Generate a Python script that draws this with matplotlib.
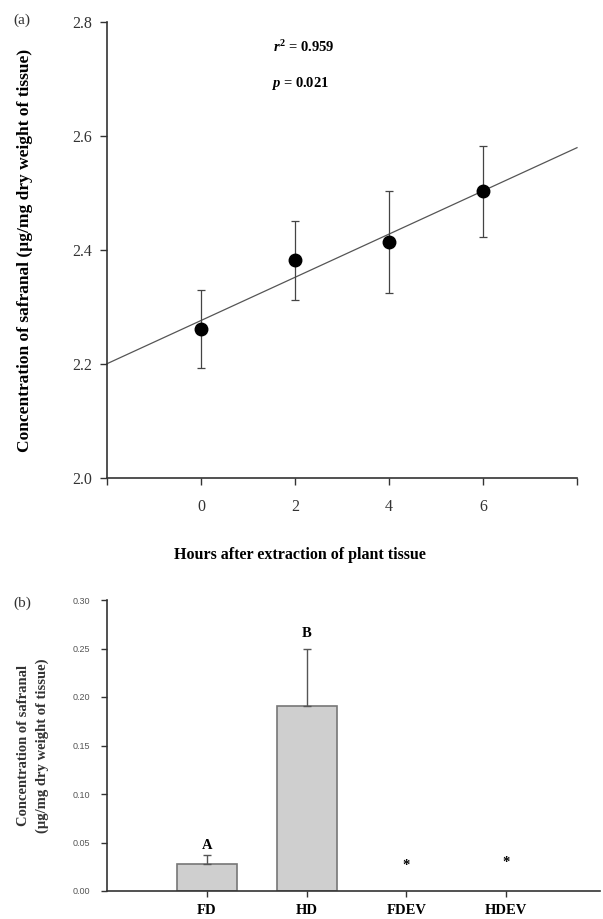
import numpy as np
import matplotlib
matplotlib.use("Agg")
import matplotlib.pyplot as plt

plt.rcParams['font.family'] = ['Liberation Serif', 'DejaVu Serif']
plt.rcParams['mathtext.fontset'] = 'custom'
plt.rcParams['mathtext.it'] = 'Liberation Serif:italic:bold'
plt.rcParams['mathtext.bf'] = 'Liberation Serif:bold'
plt.rcParams['mathtext.rm'] = 'Liberation Serif:bold'

# Panel (a) data
hours = [0, 2, 4, 6]
conc_a = [2.261, 2.382, 2.414, 2.503]
err_a = [0.068, 0.069, 0.089, 0.080]
a_yticks = [2.0, 2.2, 2.4, 2.6, 2.8]
a_xticks = [0, 2, 4, 6]

# Panel (b) data
cats = ["FD", "HD", "FDEV", "HDEV"]
conc_b = [0.028, 0.191, 0.0, 0.0]
err_b = [0.009, 0.059, 0.0, 0.0]
letters = ["A", "B", "*", "*"]
letter_y = [0.047, 0.265, 0.026, 0.029]
b_yticks = [0.00, 0.05, 0.10, 0.15, 0.20, 0.25, 0.30]

W, H = 603, 919
fig = plt.figure(figsize=(W/100, H/100), dpi=100)
axc = '#333333'

# ---------- panel (a)
ax = fig.add_axes([107/W, 1-478/H, (577-107)/W, (478-22)/H])
ax.set_xlim(-2, 8)
ax.set_ylim(2.0, 2.8)
slope, icpt = np.polyfit(hours, conc_a, 1)
xl = np.array([-2, 8])
ax.plot(xl, icpt + slope*xl, color='#555555', lw=0.9, clip_on=False)
ax.errorbar(hours, conc_a, yerr=err_a, fmt='o', color='black', ms=9,
            ecolor='#444444', elinewidth=0.9, capsize=3, capthick=0.9)
for s in ['top', 'right']:
    ax.spines[s].set_visible(False)
for s in ['left', 'bottom']:
    ax.spines[s].set_color(axc)
    ax.spines[s].set_linewidth(1.2)
ax.set_xticks([-2] + a_xticks + [8])
ax.set_xticklabels([''] + [str(v) for v in a_xticks] + [''])
ax.set_yticks(a_yticks)
ax.set_yticklabels([f"{v:.1f}" for v in a_yticks])
ax.tick_params(direction='out', length=5, width=1, color=axc, labelsize=11.5,
               labelcolor='#333333', pad=6)
ax.tick_params(axis='x', pad=10)
ax.set_xlabel("Hours after extraction of plant tissue", fontsize=11.5,
              fontweight='bold')
ax.xaxis.set_label_coords((300-107)/(577-107), -(547-478)/(478-22))
ax.set_ylabel("Concentration of safranal (\u00b5g/mg dry weight of tissue)",
              fontsize=12.5, fontweight='bold')
ax.yaxis.set_label_coords(-(107-33)/(577-107), 0.5)
ax.text(304, H-47, r"$r^{\mathbf{2}}$" + " = 0.959", transform=None,
        fontsize=10.5, fontweight='bold', ha='center', va='center')
ax.text(300, H-84, r"$p$" + " = 0.021", transform=None,
        fontsize=10.5, fontweight='bold', ha='center', va='center')
fig.text(22/W, 1-20/H, "(a)", fontsize=11, ha='center', va='center', color='#333333')

# ---------- panel (b)
bx = fig.add_axes([107/W, 1-891/H, (600-107)/W, (891-600)/H])
xpos = np.arange(len(cats))
bx.set_xlim(-1, 3.94)
bx.set_ylim(0, 0.30)
bx.bar(xpos[:2], conc_b[:2], width=0.6, color='#cfcfcf', edgecolor='#777777', lw=1.2)
bx.errorbar(xpos[:2], conc_b[:2], yerr=[[0, 0], err_b[:2]], fmt='none',
            ecolor='#555555', elinewidth=1.0, capsize=3, capthick=1.0)
for xp, lab, ly in zip(xpos, letters, letter_y):
    bx.text(xp, ly, lab, ha='center', va='center', fontsize=10.5, fontweight='bold')
for s in ['top', 'right']:
    bx.spines[s].set_visible(False)
for s in ['left', 'bottom']:
    bx.spines[s].set_color(axc)
    bx.spines[s].set_linewidth(1.2)
bx.set_xticks(xpos)
bx.set_xticklabels(cats, fontweight='bold', fontsize=10.5)
bx.set_yticks(b_yticks)
bx.set_yticklabels([f"{v:.2f}" for v in b_yticks], fontsize=6.5,
                   family=['Liberation Sans', 'DejaVu Sans'], color='#555555')
bx.tick_params(direction='out', length=4, width=1, color=axc, pad=8)
bx.tick_params(axis='x', pad=5)
bx.set_ylabel("Concentration of safranal\n(\u00b5g/mg dry weight of tissue)",
              fontsize=10.5, fontweight='bold', color='#333333', linespacing=1.5)
bx.yaxis.set_label_coords(-(107-49)/(600-107), 0.5)
fig.text(22/W, 1-603/H, "(b)", fontsize=11, ha='center', va='center', color='#333333')

fig.savefig("out.png", dpi=100, facecolor='white')
